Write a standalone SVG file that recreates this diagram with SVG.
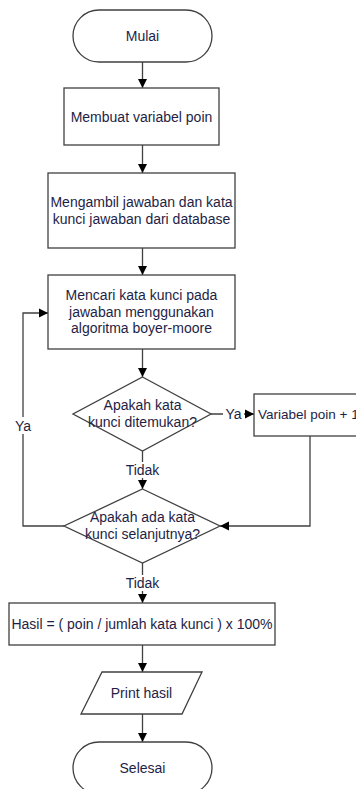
<svg xmlns="http://www.w3.org/2000/svg" width="356" height="789" viewBox="0 0 356 789">
<style>
.s{fill:#fff;stroke:#404040;stroke-width:1.3}
.c{fill:none;stroke:#404040;stroke-width:1.3}
text{font-family:"Liberation Sans",Arial,sans-serif;font-size:14px;fill:#1e1e46}
.m{text-anchor:middle}
</style>
<defs>
<marker id="a" markerWidth="10" markerHeight="10" refX="9" refY="5" orient="auto" markerUnits="userSpaceOnUse">
<path d="M0,0.5 L9,5 L0,9.5 Z" fill="#000"/>
</marker>
</defs>
<rect width="356" height="789" fill="#fff"/>
<g id="connectors">
<path class="c" d="M142.5,62 V88" marker-end="url(#a)"/>
<path class="c" d="M142.5,145 V173" marker-end="url(#a)"/>
<path class="c" d="M142.5,248 V275" marker-end="url(#a)"/>
<path class="c" d="M142.5,349 V377" marker-end="url(#a)"/>
<path class="c" d="M211,414 H254" marker-end="url(#a)"/>
<path class="c" d="M142.5,451 V489" marker-end="url(#a)"/>
<path class="c" d="M310,436 V526 H220" marker-end="url(#a)"/>
<path class="c" d="M64,526 H23 V313 H48" marker-end="url(#a)"/>
<path class="c" d="M142.5,563 V603" marker-end="url(#a)"/>
<path class="c" d="M142.5,645 V672" marker-end="url(#a)"/>
<path class="c" d="M142.5,714 V742" marker-end="url(#a)"/>
<rect x="223" y="406" width="21" height="16" fill="#fff"/>
<text x="233.5" y="419" class="m">Ya</text>
<rect x="12" y="417" width="22" height="17" fill="#fff"/>
<text x="23" y="431" class="m">Ya</text>
<rect x="121" y="462" width="43" height="16" fill="#fff"/>
<text x="142.5" y="474.5" class="m">Tidak</text>
<rect x="121" y="575" width="43" height="16" fill="#fff"/>
<text x="142.5" y="587.5" class="m">Tidak</text>
</g>
<g id="mulai">
<rect class="s" x="73" y="10" width="139" height="52" rx="26"/>
<text x="142.5" y="40.5" class="m">Mulai</text>
</g>
<g id="buat">
<rect class="s" x="64" y="88" width="155" height="57"/>
<text x="141.5" y="121.5" class="m">Membuat variabel poin</text>
</g>
<g id="ambil">
<rect class="s" x="48" y="173" width="187" height="75"/>
<text x="141.5" y="207" class="m">Mengambil jawaban dan kata</text>
<text x="141.5" y="223.5" class="m">kunci jawaban dari database</text>
</g>
<g id="cari">
<rect class="s" x="48" y="275" width="187" height="74"/>
<text x="141.5" y="300" class="m">Mencari kata kunci pada</text>
<text x="141.5" y="316.5" class="m">jawaban menggunakan</text>
<text x="141.5" y="333" class="m">algoritma boyer-moore</text>
</g>
<g id="cek1">
<polygon class="s" points="142.5,377 211,414 142.5,451 73,414"/>
<text x="142.5" y="410" class="m">Apakah kata</text>
<text x="142.5" y="427" class="m">kunci ditemukan?</text>
</g>
<g id="tambah">
<rect class="s" x="254" y="394" width="115" height="42"/>
<text x="258" y="419" style="font-size:13.5px">Variabel poin + 1</text>
</g>
<g id="cek2">
<polygon class="s" points="142.5,489 220,526 142.5,563 64,526"/>
<text x="142.5" y="522" class="m">Apakah ada kata</text>
<text x="142.5" y="539" class="m">kunci selanjutnya?</text>
</g>
<g id="hasil">
<rect class="s" x="9" y="603" width="266" height="42"/>
<text x="142" y="629" class="m">Hasil = ( poin / jumlah kata kunci ) x 100%</text>
</g>
<g id="print">
<polygon class="s" points="102,672 202,672 182,714 81,714"/>
<text x="141.5" y="698" class="m">Print hasil</text>
</g>
<g id="selesai">
<rect class="s" x="73" y="742" width="139" height="52" rx="26"/>
<text x="142.5" y="773" class="m">Selesai</text>
</g>
</svg>
